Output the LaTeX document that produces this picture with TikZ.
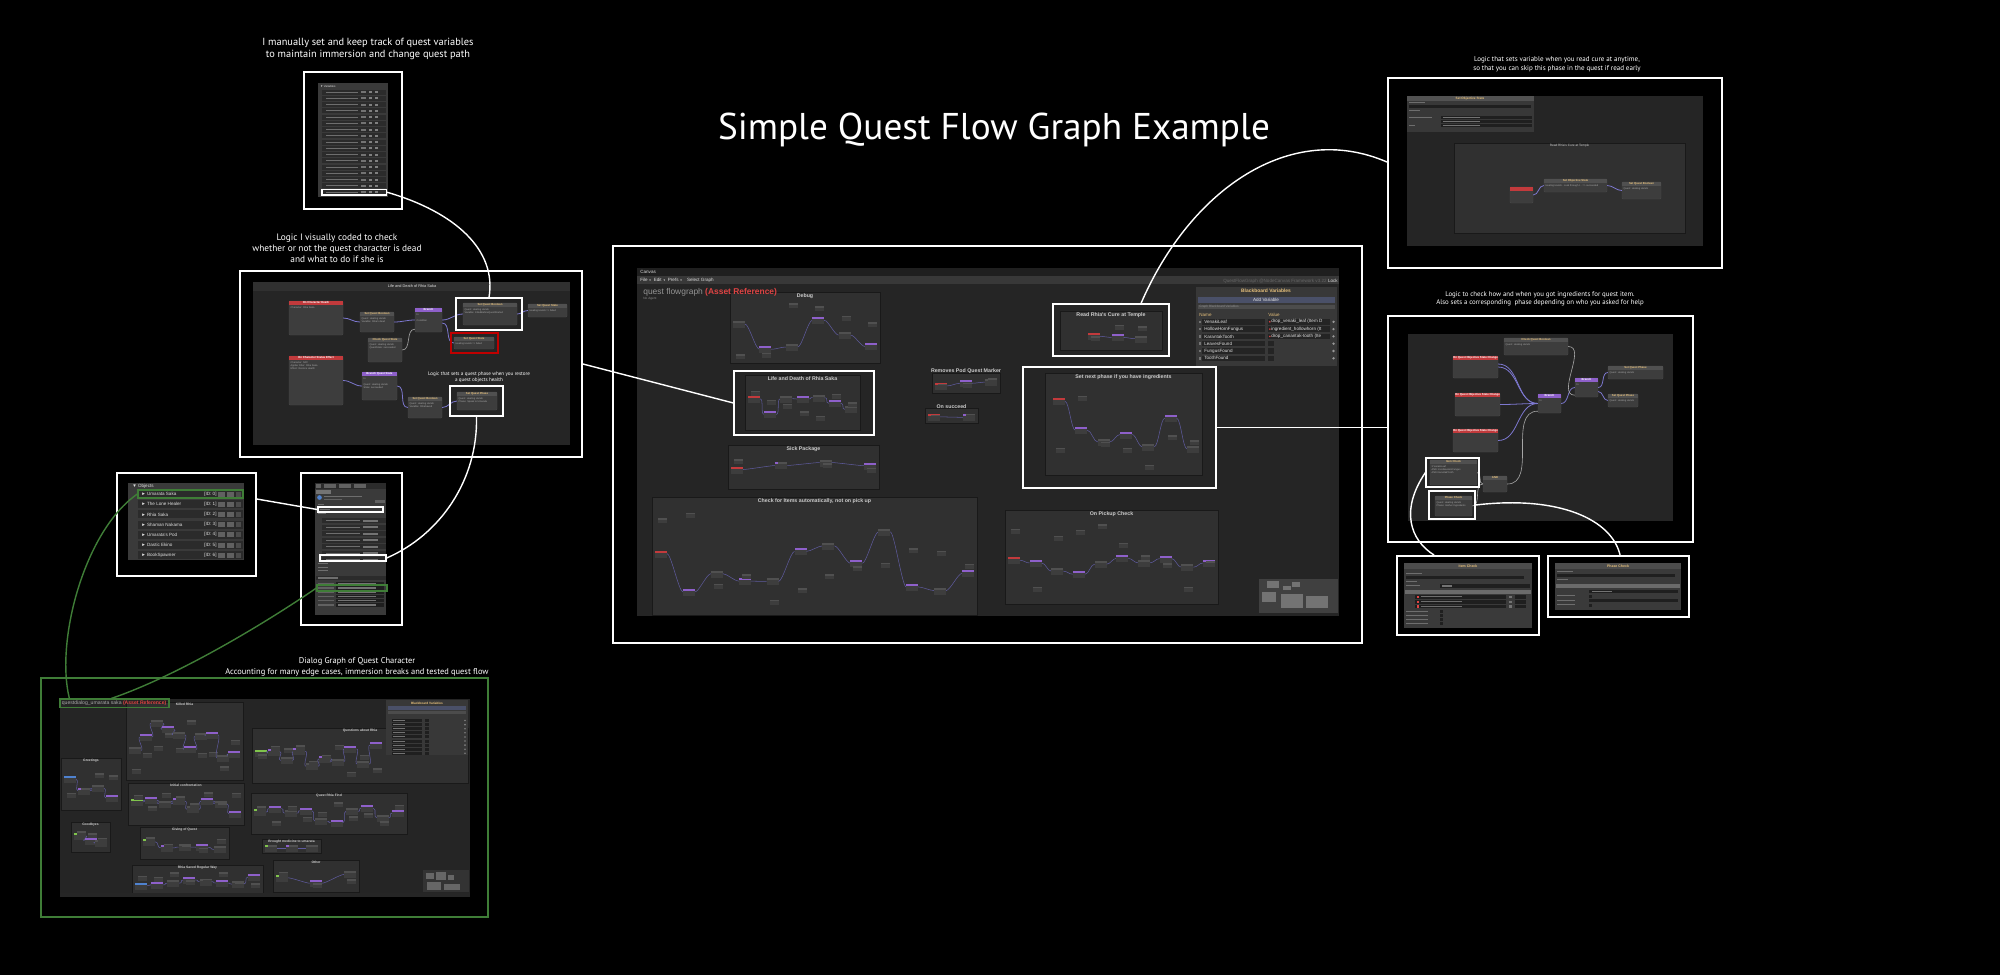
\documentclass[tikz,border=0pt]{standalone}
\usepackage{fontspec}
\setmainfont{PT Sans}
\newfontfamily\uifont{Liberation Sans}
\usetikzlibrary{positioning, fit, calc}

\definecolor{panelbg}{HTML}{252525}
\definecolor{grpbg}{HTML}{303030}
\definecolor{nodebg}{HTML}{3D3D3D}
\definecolor{nodehead}{HTML}{505050}
\definecolor{redhead}{HTML}{C23A3C}
\definecolor{purplehead}{HTML}{8E60CA}
\definecolor{wirecol}{HTML}{7D78D0}
\definecolor{dlggreen}{HTML}{3F7D37}
\definecolor{tanhead}{HTML}{E6C07B}
\definecolor{listbg}{HTML}{3A3A3A}
\definecolor{rowbg}{HTML}{2B2B2B}
\definecolor{fieldbg}{HTML}{1F1F1F}
\definecolor{greennode}{HTML}{80C44C}
\definecolor{bluenode}{HTML}{4F82CF}
\definecolor{bbblue}{HTML}{4A5068}
\definecolor{uigray}{HTML}{A8A8A8}
\definecolor{assetred}{HTML}{E04444}
\definecolor{textbar}{HTML}{6E6E6E}

\tikzset{
  shotframe/.style={draw=white, line width=1.1pt, inner sep=0pt},
  greenframe/.style={draw=dlggreen, line width=1.1pt, inner sep=0pt},
  hl/.style={draw=white, line width=0.7pt, inner sep=0pt},
  link/.style={draw=white, line width=0.8pt},
  greenlink/.style={draw=dlggreen, line width=0.8pt},
  caption/.style={text=white, align=center, inner sep=0pt},
  gbody/.style={fill=nodebg, draw=black!70, line width=0.2pt, rounded corners=0.5pt, inner sep=0pt},
  gtitle/.style={font=\uifont\fontsize{1.6}{2}\selectfont\bfseries, inner sep=0pt},
  gtext/.style={font=\uifont\fontsize{1.4}{1.8}\selectfont, text=uigray, align=left, inner sep=0pt},
  grpbox/.style={fill=grpbg, draw=black!90, line width=0.2pt, inner sep=0pt},
  grptitle/.style={font=\uifont\fontsize{3}{3.5}\selectfont\bfseries, text=black!20, inner sep=0pt},
  smalltitle/.style={font=\uifont\fontsize{1.9}{2.2}\selectfont\bfseries},
  wire/.style={draw=wirecol, line width=0.45pt},
  thinwire/.style={draw=wirecol!75!black, line width=0.3pt},
  valwire/.style={draw=gray!70, line width=0.35pt},
  ui/.style={font=\uifont\fontsize{2.6}{3}\selectfont, text=black!12, inner sep=0pt},
  tinyui/.style={font=\uifont\fontsize{1.8}{2.1}\selectfont, text=black!45, inner sep=0pt},
}

% graph node with coloured header
\newcommand\gnode[7][tanhead]{%
  \node[gbody, fit={#3 #4}] (#2) {};
  \fill[#5] (#2.north west) rectangle ($(#2.north east)+(0,4)$);
  \node[gtitle, text=#1] (#2-t) at ($(#2.north)+(0,2)$) {#6};
  \node[gtext, anchor=north west] (#2-b) at ($(#2.north west)+(1.5,5.5)$) {#7};
}
% canvas group with title
\newcommand\fgroup[5][]{%
  \node[grpbox, fit={#3 #4}] (#2) {};
  \node[grptitle, anchor=north, #1] (#2-t) at ($(#2.north)+(0,1)$) {#5};
}
% small chain of nodes filling a group
\newcommand\minigraph[6]{%
  \foreach \k in {1,...,#5}{%
    \pgfmathsetmacro\mx{#1+3+(#3-#1-18)*(\k-1)/max(#5-1,1)}%
    \pgfmathsetmacro\my{#2+3+(#4-#2-11)*(0.15+0.7*rnd)}%
    \pgfmathsetmacro\sy{#2+3+(#4-#2-11)*rnd}%
    \ifnum\k>1 \draw[thinwire] (\px+12,\py+3) .. controls (\px+16,\py+3) and (\mx-4,\my+3) .. (\mx,\my+3);\fi
    \ifnum\k=1 \def\hc{#6}\else\ifodd\k \def\hc{nodehead}\else\def\hc{purplehead}\fi\fi
    \fill[nodebg] (\mx,\my) rectangle ++(12,7);
    \fill[\hc] (\mx,\my) rectangle ++(12,2);
    \fill[nodebg] (\mx+3,\sy) rectangle ++(9,5);
    \fill[nodehead] (\mx+3,\sy) rectangle ++(9,1.5);
    \xdef\px{\mx}\xdef\py{\my}%
  }%
}
\newcommand\dd{{\fontsize{1.5}{2}\selectfont▼}}

\begin{document}
\begin{tikzpicture}[x=0.02cm, y=-0.02cm]
\pgfmathsetseed{11}
\useasboundingbox (0,0) rectangle (2000,975);
\fill[black] (0,0) rectangle (2000,975);

\node[text=white, font=\fontsize{21.2}{25}\selectfont, inner sep=0pt] (title) at (994,130) {Simple Quest Flow Graph Example};

% Quest variables list
\node[caption, font=\fontsize{5.9}{7}\selectfont] (varscap) at (368,49) {I manually set and keep track of quest variables\\to maintain immersion and change quest path};
\node[shotframe, fit={(304,72) (402,209)}] (varsframe) {};
\fill[listbg] (318,83) rectangle (388,197);
\node[ui, anchor=west, font=\uifont\fontsize{1.6}{2}\selectfont] (varshead) at (320,86) {▼ Variables};
\foreach \i in {0,...,16}{
  \pgfmathsetmacro\ry{89.5+\i*6.25}
  \fill[rowbg] (322,\ry) rectangle (386,\ry+5);
  \fill[textbar] (326,\ry+2) rectangle (358,\ry+2.9);
  \fill[black!55] (361,\ry+1.5) rectangle (366,\ry+3.5);
  \fill[black!50] (369,\ry+1.5) rectangle (372,\ry+3.5);
  \fill[black!50] (375,\ry+1.5) rectangle (378,\ry+3.5);
}
\node[hl, fit={(322,189.5) (386.5,195)}] (varrow) {};

% Life and death logic
\node[caption, font=\fontsize{5.3}{6.3}\selectfont] (logiccap) at (337,248) {Logic I visually coded to check\\whether or not the quest character is dead\\and what to do if she is};
\node[shotframe, fit={(240,271) (582,457)}] (logicframe) {};
\fill[panelbg] (253,282) rectangle (570,445);
\fill[grpbg] (253,282) rectangle (570,291);
\node[ui, font=\uifont\fontsize{2.2}{2.6}\selectfont] (logictitle) at (412,286.5) {Life and Death of Rhia Saka};
\gnode[white]{death}{(289,301)}{(343,335)}{redhead}{On Character Death}{Character: Rhia Saka}
\gnode{setbool1}{(360,312)}{(394,332)}{nodehead}{Set Quest Boolean}{Quest: Healing Hands\\Variable: Rhia's dead}
\gnode[white]{branch1}{(415,308)}{(442,332)}{purplehead}{Branch}{In\\ \\Condition}
\gnode{checkstate}{(368,338)}{(402,362)}{nodehead}{Check Quest State}{Quest: Healing Hands\\QuestState: succeeded}
\gnode{setbool2}{(463,303)}{(517,325)}{nodehead}{Set Quest Boolean}{Quest: Healing Hands\\Variable: KilledBeforeQuestStarted}
\gnode{setstate1}{(528,304)}{(567,317)}{nodehead}{Set Quest State}{Healing Hands => failed}
\gnode{setstate2}{(454,337)}{(494,349)}{nodehead}{Set Quest State}{Healing Hands => failed}
\gnode[white]{status}{(289,356)}{(343,405)}{redhead}{On Character Status Effect}{Character: NPC\\Applier Filter: Rhia Saka\\Effect: Restore Health}
\gnode[white]{branch2}{(362,372)}{(397,400)}{purplehead}{Branch Quest State}{In\\ \\Quest: Healing Hands\\State: succeeded}
\gnode{setbool3}{(408,397)}{(442,418)}{nodehead}{Set Quest Boolean}{Quest: Healing Hands\\Variable: RhiaSaved}
\gnode{setphase}{(457,392)}{(497,410)}{nodehead}{Set Quest Phase}{Quest: Healing Hands\\Phase: Speak to Umarata}
\draw[wire] (death.east) to[out=0,in=180] (setbool1.west);
\draw[wire] (setbool1.east) to[out=0,in=180] (branch1.west);
\draw[wire] (branch1.east) to[out=0,in=180] (setbool2.west);
\draw[wire] ($(branch1.east)+(0,3)$) to[out=0,in=180] (setstate2.west);
\draw[valwire] (checkstate.east) to[out=0,in=180] ($(branch1.south west)+(0,-3)$);
\draw[wire] (setbool2.east) to[out=0,in=180] (setstate1.west);
\draw[wire] (status.east) to[out=0,in=180] (branch2.west);
\draw[wire] (branch2.east) to[out=0,in=180] (setbool3.west);
\draw[wire] (setbool3.east) to[out=0,in=180] (setphase.west);
\node[hl, fit={(456,298) (522,330)}] (setbool2hl) {};
\node[hl, draw=red!75!black, line width=0.9pt, fit={(451,333) (498,353)}] (setstate2hl) {};
\node[hl, fit={(450,386) (503,416)}] (setphasehl) {};
\node[caption, font=\fontsize{2.9}{3.5}\selectfont] (phasecap) at (479,377) {Logic that sets a quest phase when you restore\\a quest objects health};

% Objects list
\node[shotframe, fit={(117,473) (256,576)}] (objframe) {};
\fill[listbg] (128,483) rectangle (244,560);
\node[ui, anchor=west] (objhead) at (132,486.5) {▼ Objects};
\foreach \oname [count=\i from 0] in {Umarata Saka, The Lone Healer, Rhia Saka, Shaman Nakama, Umarata's Pod, Dastic Ekino, BookSpawner}{
  \pgfmathsetmacro\ry{490+\i*10.2}
  \fill[rowbg] (138,\ry) rectangle (243,\ry+8);
  \node[ui, anchor=west] (obj\i) at (141,\ry+4) {► \oname};
  \node[ui, anchor=west] (objid\i) at (204,\ry+4) {[ID: \i]};
  \fill[black!62] (218,\ry+1.5) rectangle (225,\ry+6.5);
  \fill[black!62] (227,\ry+1.5) rectangle (234,\ry+6.5);
  \fill[black!70] (236,\ry+1.5) rectangle (241,\ry+6.5);
}
\node[hl, draw=dlggreen, fit={(138,490) (243,498)}] (objrow0) {};

% Quest inspector
\node[shotframe, fit={(301,473) (402,625)}] (inspframe) {};
\fill[listbg] (315,483) rectangle (386,615);
\fill[rowbg] (315,483) rectangle (386,489);
\foreach \bx/\bw in {316/5, 324/12, 339/12, 354/12}{\fill[black!62] (\bx,484.3) rectangle (\bx+\bw,487.7);}
\fill[black!55] (316,490) rectangle (331,493.5);
\fill[bluenode] (319.5,497.5) circle (2.3);
\fill[textbar] (324,495.5) rectangle (362,496.8);
\fill[black!62] (324,498.5) rectangle (342,499.7);
\fill[black!62] (375,500) rectangle (385,502.5);
\fill[textbar] (318,503.5) rectangle (324,504.8);
\fill[textbar] (320,509) rectangle (330,510.3);
\fill[textbar] (318,513) rectangle (326,514.3);
\foreach \y in {518,524.5,531,537.5,544,550.5,557}{
  \fill[rowbg] (322,\y) rectangle (386,\y+5);
  \fill[textbar] (326,\y+2) rectangle (360,\y+2.9);
  \fill[black!55] (363,\y+1.5) rectangle (378,\y+3.5);
}
\foreach \y in {563,566.5,570}{\fill[textbar] (318,\y) rectangle (328,\y+1.3);}
\fill[rowbg] (316,575.5) rectangle (386,580);
\fill[textbar] (318,577.3) rectangle (338,578.5);
\foreach \y in {581.5,586.3,590.7,594.9,599.1,603.3}{
  \fill[black!62] (318,\y+1) rectangle (334,\y+2.2);
  \fill[fieldbg] (336,\y) rectangle (384,\y+3.3);
  \fill[black!55] (338,\y+1) rectangle (376,\y+2.2);
}
\node[hl, fit={(318,507) (383,512)}] (insobj) {};
\node[hl, fit={(320,555) (386,561)}] (insphase) {};
\node[hl, draw=dlggreen, fit={(317,585) (387,591)}] (insgraph) {};

% Dialog graph
\node[caption, font=\fontsize{4.8}{6}\selectfont] (dlgcap) at (357,667) {Dialog Graph of Quest Character\\Accounting for many edge cases, immersion breaks and tested quest flow};
\node[greenframe, fit={(41,678) (488,917)}] (dlgframe) {};
\fill[panelbg] (60,699) rectangle (470,897);
\fgroup[smalltitle]{killed}{(126,702)}{(243,780)}{Killed Rhia}
\minigraph{126}{706}{243}{780}{10}{nodehead}
\fgroup[smalltitle]{greet}{(61,758)}{(121,810)}{Greetings}
\minigraph{61}{763}{121}{810}{4}{bluenode}
\fgroup[smalltitle]{bye}{(71,822)}{(110,852)}{Goodbyes}
\minigraph{71}{827}{110}{852}{3}{greennode}
\fgroup[smalltitle]{confront}{(128,783)}{(244,825)}{Initial confrontation}
\minigraph{128}{788}{244}{825}{8}{greennode}
\fgroup[smalltitle]{giving}{(140,827)}{(229,859)}{Giving of Quest}
\minigraph{140}{832}{229}{859}{5}{greennode}
\fgroup[smalltitle]{aboutrhia}{(252,728)}{(468,783)}{Questions about Rhia}
\minigraph{252}{733}{385}{783}{10}{greennode}
\fgroup[smalltitle]{findrhia}{(251,793)}{(407,834)}{Quest Rhia Find}
\minigraph{251}{798}{407}{834}{10}{greennode}
\fgroup[smalltitle]{medicine}{(262,839)}{(321,853)}{Brought medicine to umarata}
\minigraph{262}{842}{321}{853}{3}{greennode}
\fgroup[smalltitle]{saved}{(132,865)}{(263,893)}{Rhia Saved Regular Way}
\minigraph{132}{869}{263}{893}{8}{bluenode}
\fgroup[smalltitle]{other}{(273,860)}{(359,892)}{Other}
\minigraph{273}{866}{359}{892}{3}{greennode}
\fill[black!78] (386,700) rectangle (468,755);
\node[tinyui, text=tanhead, font=\uifont\fontsize{1.8}{2}\selectfont\bfseries] (dlgbb) at (427,703) {Blackboard Variables};
\fill[bbblue] (388,705.5) rectangle (466,709.5);
\fill[black!70] (388,711) rectangle (466,714);
\foreach \i in {0,...,8}{
  \pgfmathsetmacro\ry{719+\i*4.1}
  \fill[fieldbg] (392,\ry) rectangle (422,\ry+3);
  \fill[black!55] (393,\ry+1) rectangle (405,\ry+2);
  \fill[fieldbg] (425,\ry) rectangle (429,\ry+3);
  \fill[black!50] (465,\ry+1.5) circle (0.9);
}
\fill[black!85] (60,893) rectangle (470,897);
\fill[black!80] (423,870) rectangle (469,892);
\foreach \mx/\my/\mw/\mh in {426/873/8/6, 436/872/10/8, 448/875/6/5, 427/882/14/8, 444/884/16/6}{\fill[black!60] (\mx,\my) rectangle (\mx+\mw,\my+\mh);}
\node[ui, anchor=west, font=\uifont\fontsize{2.9}{3.4}\selectfont, text=uigray] (dlgname) at (61.5,703.3) {questdialog\_umarata saka {\bfseries\color{assetred}(Asset Reference)}};
\node[hl, draw=dlggreen, fit={(60,699) (169,707.5)}] (dlgtitle) {};

% Main quest flow graph
\node[shotframe, fit={(613,246) (1362,643)}] (mainframe) {};
\fill[panelbg] (637,268) rectangle (1339,616);
\fill[black!88] (637,268) rectangle (1339,276);
\node[ui, anchor=west] (canvaslbl) at (640,272) {Canvas};
\fill[black!78] (637,276) rectangle (1339,284);
\node[ui, anchor=west] (menu) at (640,280.2) {File \dd\enspace Edit \dd\enspace Prefs \dd\quad Select Graph};
\node[ui, anchor=east, text=black!60] (version) at (1327,281) {QuestFlowGraph @NodeCanvas Framework v3.22};
\node[ui, anchor=east] (lock) at (1338,281) {Lock};
\fgroup{debug}{(730,292)}{(880,363)}{Debug}
\minigraph{730}{300}{880}{363}{6}{nodehead}
\node[anchor=west, font=\uifont\fontsize{4.8}{5.5}\selectfont, text=black!42, inner sep=0pt] (flowname) at (643,292) {quest flowgraph {\bfseries\color{assetred}(Asset Reference)}};
\node[tinyui, anchor=west] (noagent) at (643,298.5) {No Agent};
\fgroup{lifedeath}{(745,375)}{(860,430)}{Life and Death of Rhia Saka}
\minigraph{745}{382}{860}{430}{7}{redhead}
\fgroup[anchor=south]{removepod}{(932,373)}{(1000,393)}{Removes Pod Quest Marker}
\minigraph{932}{375}{1000}{393}{3}{redhead}
\fgroup[anchor=south]{succeed}{(925,408)}{(978,423)}{On succeed}
\minigraph{925}{410}{978}{423}{2}{redhead}
\fgroup{readcure}{(1060,311)}{(1162,350)}{Read Rhia's Cure at Temple}
\minigraph{1085}{320}{1150}{350}{3}{redhead}
\fgroup{nextphase}{(1045,373)}{(1202,475)}{Set next phase if you have ingredients}
\minigraph{1050}{381}{1202}{475}{7}{redhead}
\fgroup{sick}{(728,445)}{(879,489)}{Sick Package}
\minigraph{728}{451}{879}{489}{4}{redhead}
\fgroup{autocheck}{(652,497)}{(977,615)}{Check for Items automatically, not on pick up}
\minigraph{652}{505}{977}{612}{12}{redhead}
\fgroup{pickup}{(1005,510)}{(1218,604)}{On Pickup Check}
\minigraph{1005}{518}{1218}{600}{10}{redhead}
\fill[black!75] (1259,579) rectangle (1338,613);
\foreach \mx/\my/\mw/\mh in {1267/581/12/7, 1283/586/8/4, 1292/582/8/5, 1262/592/14/10, 1281/594/22/14, 1306/596/22/12}{\fill[black!55] (\mx,\my) rectangle (\mx+\mw,\my+\mh);}
% Blackboard
\fill[black!78] (1196,287) rectangle (1337,366);
\node[ui, text=tanhead, font=\uifont\fontsize{2.8}{3.2}\selectfont\bfseries] (bbtitle) at (1266,291) {Blackboard Variables};
\fill[bbblue] (1198,296.5) rectangle (1335,303);
\node[ui] (addvar) at (1266,299.8) {Add Variable};
\fill[black!70] (1198,305) rectangle (1335,309);
\node[tinyui, anchor=west] (graphvars) at (1199,307) {Graph Blackboard Variables};
\node[ui, anchor=west, text=tanhead] (bbname) at (1199,314.8) {Name};
\node[ui, anchor=west, text=tanhead] (bbvalue) at (1268,314.8) {Value};
\foreach \vname/\vval [count=\i from 0] in {VenakiLeaf/drop\_venaki\_leaf (Item D, HollowHornFungus/ingredient\_hollowhorn (It, KarantakTooth/drop\_canantak-tooth (Ite, LeavesFound/, FungusFound/, ToothFound/}{
  \pgfmathsetmacro\ry{319+\i*7.3}
  \fill[black!55] (1198.5,\ry+1.5) rectangle (1200.5,\ry+4);
  \fill[black!86] (1202,\ry) rectangle (1265,\ry+5.5);
  \node[ui, anchor=west] (bbv\i) at (1204,\ry+2.8) {\vname};
  \ifnum\i<3
    \fill[black!86] (1268,\ry) rectangle (1330,\ry+5.5);
    \fill[assetred] (1269.8,\ry+2.8) circle (0.9);
    \node[ui, anchor=west] (bbval\i) at (1271,\ry+2.8) {\vval};
  \else
    \fill[black!86] (1268,\ry) rectangle (1274,\ry+5.5);
  \fi
  \fill[black!40] (1333.5,\ry+2.8) circle (1.3);
}
\node[hl, fit={(734,371) (874,435)}] (lifedeathhl) {};
\node[hl, fit={(1053,304) (1169,356)}] (readcurehl) {};
\node[hl, fit={(1023,367) (1216,488)}] (nextphasehl) {};

% Read cure logic
\node[caption, font=\fontsize{4}{5.1}\selectfont] (curecap) at (1557,64) {Logic that sets variable when you read cure at anytime,\\so that you can skip this phase in the quest if read early};
\node[shotframe, fit={(1388,78) (1722,268)}] (cureframe) {};
\fill[panelbg] (1407,96) rectangle (1703,246);
\fill[black!78] (1407,96) rectangle (1534,132);
\fill[black!68] (1407,96) rectangle (1534,100.5);
\node[tinyui, text=tanhead, font=\uifont\fontsize{1.8}{2}\selectfont\bfseries] (setobjtitle) at (1470,98.3) {Set Objective State};
\fill[textbar] (1409,102) rectangle (1425,103.2);
\fill[fieldbg] (1409,105) rectangle (1531,108);
\fill[textbar] (1409,109.5) rectangle (1420,110.7);
\foreach \y in {115.5,119.5,124}{\fill[fieldbg] (1441,\y) rectangle (1532,\y+3); \fill[black!55] (1443,\y+1) rectangle (1480,\y+2);}
\fill[textbar] (1409,116.5) rectangle (1432,117.7);
\fill[textbar] (1409,125) rectangle (1415,126.2);
\fgroup[smalltitle, font=\uifont\fontsize{1.8}{2}\selectfont]{curegrp}{(1454,143)}{(1685,233)}{Read Rhia's Cure at Temple}
\gnode[white]{onread}{(1510,187)}{(1533,203)}{redhead}{}{}
\gnode{setobj}{(1544,179)}{(1607,192)}{nodehead}{Set Objective State}{Healing Hands - Look through t... => succeeded}
\gnode{setqb}{(1622,182)}{(1661,199)}{nodehead}{Set Quest Boolean}{Quest: Healing Hands}
\draw[wire] (onread.east) to[out=0,in=180] (setobj.west);
\draw[wire] (setobj.east) to[out=0,in=180] (setqb.west);

% Ingredients logic
\node[caption, font=\fontsize{3.9}{4.8}\selectfont] (ingrcap) at (1540,299) {Logic to check how and when you got ingredients for quest item.\\Also sets a corresponding\ \ phase depending on who you asked for help};
\node[shotframe, fit={(1388,316) (1693,542)}] (ingrframe) {};
\fill[panelbg] (1408,334) rectangle (1673,521);
\gnode{checkqb}{(1504,338)}{(1568,355)}{nodehead}{Check Quest Boolean}{Quest: Healing Hands}
\gnode[white]{objev1}{(1453,356)}{(1498,378)}{redhead}{On Quest Objective State Change}{}
\gnode[white]{objev2}{(1455,393)}{(1500,416)}{redhead}{On Quest Objective State Change}{}
\gnode[white]{objev3}{(1453,429)}{(1498,452)}{redhead}{On Quest Objective State Change}{}
\gnode[white]{ibranch1}{(1538,394)}{(1561,413)}{purplehead}{Branch}{In}
\gnode[white]{ibranch2}{(1575,378)}{(1598,397)}{purplehead}{Branch}{In}
\gnode{iphase1}{(1608,366)}{(1663,379)}{nodehead}{Set Quest Phase}{Quest: Healing Hands}
\gnode{iphase2}{(1608,394)}{(1638,407)}{nodehead}{Set Quest Phase}{Quest: Healing Hands}
\gnode{itemchk}{(1430,460)}{(1477,485)}{nodehead}{Item Check}{3 VenakiLeaf\\AND 1 HollowHornFungus\\AND KarantakTooth}
\gnode{andnode}{(1483,476)}{(1507,492)}{nodehead}{AND}{}
\gnode{phasechk}{(1435,496)}{(1472,516)}{nodehead}{Phase Check}{Quest: Healing Hands\\Phase: Gather Ingredients}
\draw[wire] (objev1.east) to[out=0,in=180] (ibranch1.west);
\draw[wire] ($(objev1.east)+(0,-3)$) to[out=0,in=180] (ibranch1.west);
\draw[wire] (objev2.east) to[out=0,in=180] (ibranch1.west);
\draw[wire] (objev3.east) to[out=0,in=180] (ibranch1.west);
\draw[wire] (ibranch1.east) to[out=0,in=180] (ibranch2.west);
\draw[valwire] (checkqb.east) to[out=0,in=180] ($(ibranch2.south west)+(0,-2)$);
\draw[wire] (ibranch2.east) to[out=0,in=180] (iphase1.west);
\draw[wire] ($(ibranch2.east)+(0,4)$) to[out=0,in=180] (iphase2.west);
\draw[valwire] (andnode.east) to[out=0,in=180] ($(ibranch1.south west)+(0,-2)$);
\draw[valwire] (itemchk.east) to[out=0,in=180] (andnode.west);
\draw[valwire] (phasechk.east) to[out=0,in=180] (andnode.west);
\node[hl, fit={(1426,458) (1479,487)}] (itemhl) {};
\node[hl, fit={(1429,491) (1475,519)}] (phasehl) {};

% Item check inspector
\node[shotframe, fit={(1397,556) (1539,635)}] (itemframe) {};
\fill[listbg] (1404,563) rectangle (1532,628);
\fill[black!70] (1404,563) rectangle (1532,569);
\node[tinyui, text=tanhead, font=\uifont\fontsize{2}{2.3}\selectfont\bfseries] (itemtitle) at (1468,566) {Item Check};
\fill[textbar] (1406,572.5) rectangle (1422,573.7);
\fill[fieldbg] (1406,576) rectangle (1524,579);
\fill[textbar] (1406,580.5) rectangle (1417,581.7);
\fill[textbar] (1406,585) rectangle (1420,586.2);
\fill[fieldbg] (1440,584) rectangle (1530,587.5);
\fill[black!55] (1442,585) rectangle (1452,586.5);
\fill[black!58] (1405,590) rectangle (1531,594);
\foreach \y in {595,600,604.5}{
  \fill[fieldbg] (1415,\y) rectangle (1506,\y+3.8);
  \fill[assetred] (1417,\y+0.8) rectangle (1419,\y+3);
  \fill[textbar] (1421,\y+1.3) rectangle (1462,\y+2.4);
  \fill[black!55] (1509,\y+0.8) rectangle (1512,\y+3);
  \fill[fieldbg] (1515,\y) rectangle (1526,\y+3.8);
}
\foreach \y in {610,614,618,622}{
  \fill[textbar] (1406,\y+1) rectangle (1428,\y+2.2);
  \fill[fieldbg] (1440,\y) rectangle (1443,\y+3);
}
% Phase check inspector
\node[shotframe, fit={(1548,556) (1689,617)}] (phaseframe) {};
\fill[listbg] (1555,563) rectangle (1681,610);
\fill[black!70] (1555,563) rectangle (1681,569);
\node[tinyui, text=tanhead, font=\uifont\fontsize{2}{2.3}\selectfont\bfseries] (phasetitle) at (1618,566) {Phase Check};
\fill[textbar] (1557,571) rectangle (1573,572.2);
\fill[fieldbg] (1557,574) rectangle (1675,577);
\fill[textbar] (1557,578.5) rectangle (1568,579.7);
\fill[black!58] (1556,584) rectangle (1680,588);
\fill[fieldbg] (1589,589.5) rectangle (1678,593);
\fill[black!55] (1592,590.5) rectangle (1612,592);
\foreach \y in {594.5,599,603.5}{\fill[textbar] (1557,\y+0.7) rectangle (1575,\y+1.9);}
\fill[fieldbg] (1589,594.5) rectangle (1592,597.5);
\fill[fieldbg] (1589,599) rectangle (1678,602.3);
\fill[fieldbg] (1589,603.5) rectangle (1592,606.5);

% Connections between screenshots
\draw[link] (varrow.east) .. controls (455,212) and (497,250) .. (setbool2hl.north);
\draw[link] (logicframe.east) -- (lifedeathhl.west);
\draw[link] (setphasehl.south) .. controls (478,480) and (440,535) .. (insphase.east);
\draw[link] ($(objframe.north east)+(0,27)$) -- (insobj.west);
\draw[greenlink] (objrow0.west) .. controls (85,530) and (55,640) .. ($(dlgtitle.north west)+(10,0)$);
\draw[greenlink] (insgraph.west) .. controls (270,620) and (180,675) .. ($(dlgtitle.north west)+(52,0)$);
\draw[link] ($(readcurehl.north)+(30,0)$) .. controls (1190,190) and (1290,120) .. ($(cureframe.north west)+(0,85)$);
\draw[link] (nextphasehl.east) -- (nextphasehl.east -| ingrframe.west);
\draw[link] (itemhl.west) .. controls (1400,510) and (1410,540) .. ($(itemframe.north west)+(38,0)$);
\draw[link] (phasehl.east) .. controls (1560,495) and (1612,520) .. ($(phaseframe.north west)+(73,0)$);
\end{tikzpicture}
\end{document}
